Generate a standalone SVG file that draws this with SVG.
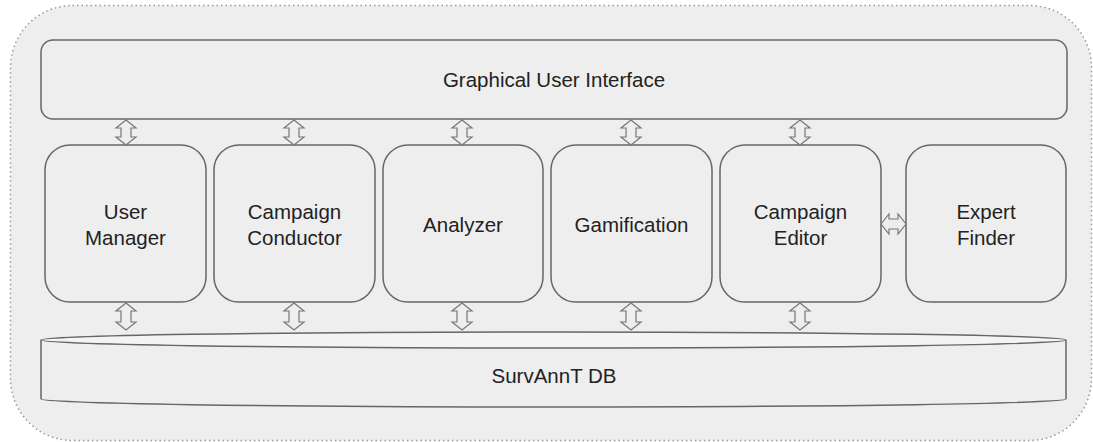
<svg xmlns="http://www.w3.org/2000/svg" xmlns:xlink="http://www.w3.org/1999/xlink" width="1093" height="442" viewBox="0 0 1093 442">
<style>
.box{fill:#eeeeee;stroke:#666666;stroke-width:1.5}
.arr{fill:#eeeeee;stroke:#777777;stroke-width:1.2;stroke-linejoin:miter}
.t{font-family:"Liberation Sans",Arial,sans-serif;font-size:20.5px;fill:#222222;text-anchor:middle}
</style>
<defs>
<path id="va25" d="M0,0 L10,8 L5,8 L5,17 L10,17 L0,25 L-10,17 L-5,17 L-5,8 L-10,8 Z"/>
<path id="va27" d="M0,0 L10,8 L5,8 L5,19 L10,19 L0,27 L-10,19 L-5,19 L-5,8 L-10,8 Z"/>
</defs>
<rect x="0" y="0" width="1093" height="442" fill="#ffffff"/>
<rect x="10.5" y="5.5" width="1081" height="435" rx="62" ry="62" fill="#eeeeee" stroke="#999999" stroke-width="1.5" stroke-dasharray="1.5,3"/>
<g id="gui">
<rect class="box" x="41" y="40" width="1026" height="79" rx="12" ry="12"/>
<text class="t" x="554" y="87">Graphical User Interface</text>
</g>
<g id="user-manager">
<rect class="box" x="45" y="145" width="161" height="157" rx="25" ry="25"/>
<text class="t" x="125.5" y="218.5">User</text>
<text class="t" x="125.5" y="245">Manager</text>
</g>
<g id="campaign-conductor">
<rect class="box" x="214" y="145" width="161" height="157" rx="25" ry="25"/>
<text class="t" x="294.5" y="218.5">Campaign</text>
<text class="t" x="294.5" y="245">Conductor</text>
</g>
<g id="analyzer">
<rect class="box" x="383" y="145" width="160" height="157" rx="25" ry="25"/>
<text class="t" x="463" y="232">Analyzer</text>
</g>
<g id="gamification">
<rect class="box" x="551" y="145" width="161" height="157" rx="25" ry="25"/>
<text class="t" x="631.5" y="232">Gamification</text>
</g>
<g id="campaign-editor">
<rect class="box" x="720" y="145" width="161" height="157" rx="25" ry="25"/>
<text class="t" x="800.5" y="218.5">Campaign</text>
<text class="t" x="800.5" y="245">Editor</text>
</g>
<g id="expert-finder">
<rect class="box" x="906" y="145" width="160" height="157" rx="25" ry="25"/>
<text class="t" x="986" y="218.5">Expert</text>
<text class="t" x="986" y="245">Finder</text>
</g>
<g id="db">
<path class="box" d="M41,340 L41,399 A512.5,8 0 0 0 1066,399 L1066,340"/>
<ellipse cx="553.5" cy="340" rx="512.5" ry="8" fill="#f4f4f4" stroke="#666666" stroke-width="1.5"/>
<text class="t" x="554" y="383">SurvAnnT DB</text>
</g>
<g id="connectors">
<use xlink:href="#va25" class="arr" transform="translate(126,120)"/>
<use xlink:href="#va25" class="arr" transform="translate(294,120)"/>
<use xlink:href="#va25" class="arr" transform="translate(462,120)"/>
<use xlink:href="#va25" class="arr" transform="translate(631,120)"/>
<use xlink:href="#va25" class="arr" transform="translate(800,120)"/>
<use xlink:href="#va27" class="arr" transform="translate(126,303)"/>
<use xlink:href="#va27" class="arr" transform="translate(294,303)"/>
<use xlink:href="#va27" class="arr" transform="translate(462,303)"/>
<use xlink:href="#va27" class="arr" transform="translate(631,303)"/>
<use xlink:href="#va27" class="arr" transform="translate(800,303)"/>
<use xlink:href="#va25" class="arr" transform="translate(881,224) rotate(-90)"/>
</g>
</svg>
